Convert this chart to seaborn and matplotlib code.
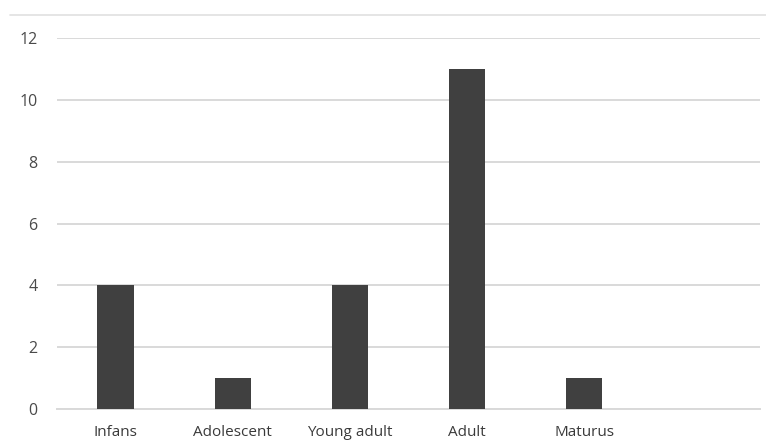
import matplotlib
matplotlib.use("Agg")
import matplotlib.pyplot as plt
from matplotlib.lines import Line2D
import seaborn as sns
import pandas as pd

# Age groups and the number of individuals in each
age_groups = ["Infans", "Adolescent", "Young adult", "Adult", "Maturus"]
counts = [4, 1, 4, 11, 1]
y_ticks = [0, 2, 4, 6, 8, 10, 12]

df = pd.DataFrame({"group": age_groups, "count": counts})

sns.set_theme(style="white")
plt.rcParams["font.family"] = ["Open Sans", "DejaVu Sans"]

W, H, DPI = 766, 442, 100
fig = plt.figure(figsize=(W / DPI, H / DPI), dpi=DPI)
ax = fig.add_axes([57 / W, (H - 409) / H, (760 - 57) / W, (409 - 38) / H])

sns.barplot(data=df, x="group", y="count", order=age_groups, color="#404040",
            saturation=1, width=0.31, linewidth=0, ax=ax, zorder=3)

ax.set_xlim(-0.5, 5.5)
ax.set_ylim(0, 12)
ax.set_yticks(y_ticks)
ax.yaxis.grid(True, color="#d9d9d9", linewidth=1.4, zorder=0)
ax.xaxis.grid(False)
for side in ["top", "right", "left"]:
    ax.spines[side].set_visible(False)
ax.spines["bottom"].set_color("#d9d9d9")
ax.spines["bottom"].set_linewidth(1.4)

ax.set_xlabel("")
ax.set_ylabel("")
ax.tick_params(axis="y", length=0, pad=14, labelsize=11.5, labelcolor="#4a4a4a")
ax.tick_params(axis="x", length=0, pad=11.5, labelsize=11, labelcolor="#3a3a3a")

# Thin rule across the top of the chart
fig.add_artist(Line2D([10 / W, 1.0], [(H - 14.5) / H] * 2, color="#e0e0e0",
                      linewidth=1.2, transform=fig.transFigure))

fig.savefig("out.png", dpi=DPI, facecolor="white")
